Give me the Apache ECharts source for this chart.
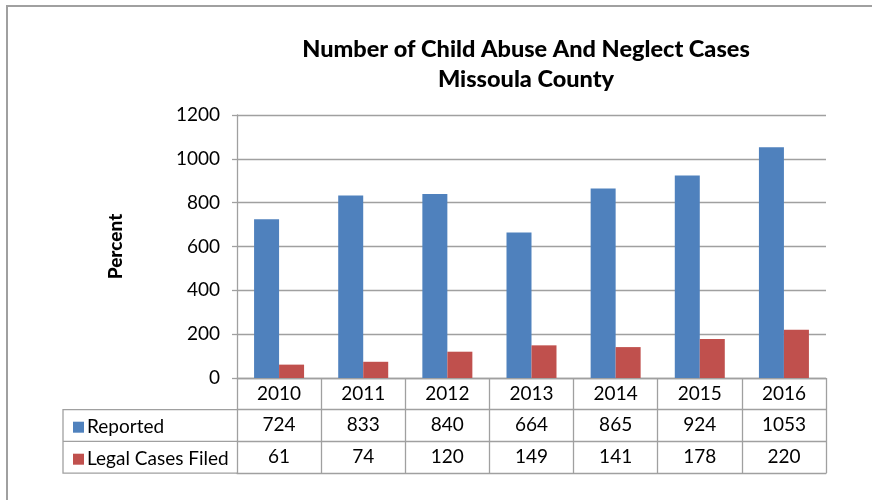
<!DOCTYPE html>
<html>
<head>
<meta charset="utf-8">
<script src="https://cdn.jsdelivr.net/npm/echarts@6/dist/echarts.min.js"></script>
<style>html,body{margin:0;padding:0;background:#fff}#c{width:872px;height:500px}</style>
</head>
<body>
<div id="c"></div>
<script>
const years = ['2010','2011','2012','2013','2014','2015','2016'];
const reported = [724, 833, 840, 664, 865, 924, 1053];
const legalFiled = [61, 74, 120, 149, 141, 178, 220];
const seriesNames = ['Reported', 'Legal Cases Filed'];
const yTicks = {min: 0, max: 1200, interval: 200};

const FONT = 'Lato';
const GRID_L = 237, GRID_R = 46, GRID_T = 115, GRID_B = 122;
const ROW = 31.7;
const TABLE_L = 63;
const lineC = '#a0a0a0';

const chart = echarts.init(document.getElementById('c'));
const xBase = {type: 'category', gridIndex: 0, position: 'bottom', data: years,
  axisLine: {show: true, lineStyle: {color: lineC, width: 1.3}},
  axisTick: {show: false}, splitLine: {show: false},
  axisLabel: {color: '#000', fontFamily: FONT, fontSize: 19, margin: 6}};

const option = {
  backgroundColor: '#fff',
  animation: false,
  title: {
    text: 'Number of Child Abuse And Neglect Cases\nMissoula County',
    left: 521, textAlign: 'center', top: 29,
    textStyle: {fontFamily: FONT, fontWeight: 900, fontSize: 23.5, color: '#000', lineHeight: 30}
  },
  legend: {
    orient: 'vertical', left: TABLE_L + 5, top: 378 + ROW + 3,
    itemWidth: 11, itemHeight: 11, itemGap: 13, icon: 'rect',
    textStyle: {fontFamily: FONT, fontSize: 19, color: '#000', padding: [0, 0, 0, -2]},
    data: seriesNames
  },
  grid: {left: GRID_L, right: GRID_R, top: GRID_T, bottom: GRID_B},
  xAxis: [
    Object.assign({}, xBase, {
      axisTick: {show: true, alignWithLabel: false, length: ROW * 3, lineStyle: {color: lineC, width: 1.3}}
    }),
    Object.assign({}, xBase, {offset: ROW, data: reported.map(String)}),
    Object.assign({}, xBase, {offset: ROW * 2, data: legalFiled.map(String)}),
    Object.assign({}, xBase, {offset: ROW * 3, data: years, axisLabel: {show: false}})
  ],
  yAxis: {
    type: 'value', min: yTicks.min, max: yTicks.max, interval: yTicks.interval,
    name: 'Percent', nameLocation: 'middle', nameGap: 112, nameRotate: 90,
    nameTextStyle: {fontFamily: FONT, fontWeight: 900, fontSize: 19, color: '#000'},
    axisLine: {show: true, lineStyle: {color: lineC, width: 1.3}},
    axisTick: {show: true, length: 5, lineStyle: {color: lineC, width: 1.3}},
    splitLine: {show: true, lineStyle: {color: lineC, width: 1.3}},
    axisLabel: {color: '#000', fontFamily: FONT, fontSize: 19, margin: 17,
      formatter: v => String(v)}
  },
  series: [
    {name: seriesNames[0], type: 'bar', data: reported, barWidth: 25, barGap: '0%',
      itemStyle: {color: '#4f81bd'}},
    {name: seriesNames[1], type: 'bar', data: legalFiled, barWidth: 25, barGap: '0%',
      itemStyle: {color: '#c0504d'}}
  ],
  graphic: [
    {type: 'rect', silent: true, shape: {x: 7, y: 6, width: 900, height: 600},
      style: {fill: 'none', stroke: lineC, lineWidth: 2}},
    {type: 'polyline', silent: true,
      shape: {points: [[GRID_L, 378 + ROW], [TABLE_L, 378 + ROW], [TABLE_L, 378 + ROW * 3], [GRID_L, 378 + ROW * 3]]},
      style: {fill: 'none', stroke: lineC, lineWidth: 1.3}},
    {type: 'line', silent: true,
      shape: {x1: TABLE_L, y1: 378 + ROW * 2, x2: GRID_L, y2: 378 + ROW * 2},
      style: {stroke: lineC, lineWidth: 1.3}}
  ]
};
chart.setOption(option);
</script>
</body>
</html>
